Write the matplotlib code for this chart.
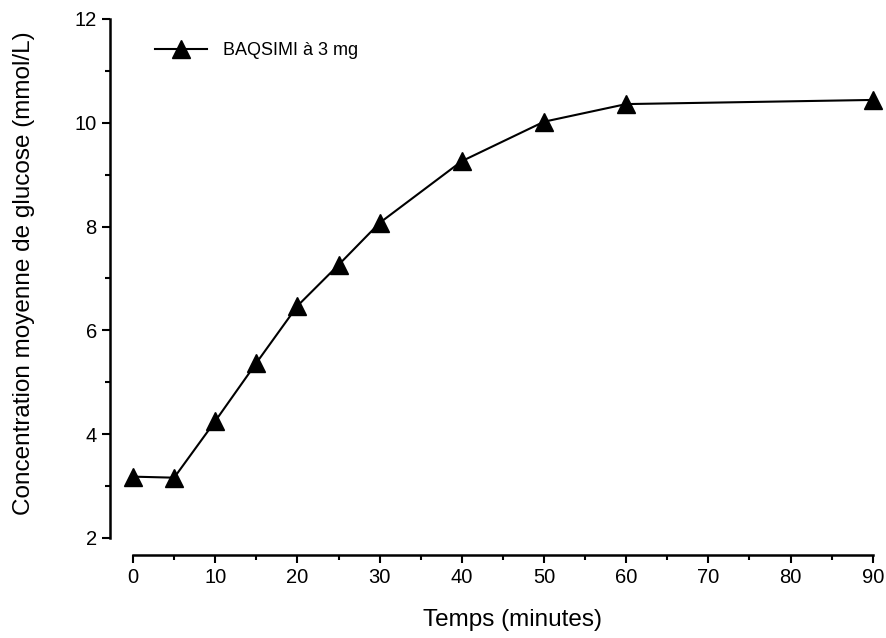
import matplotlib.pyplot as plt
from matplotlib.ticker import MultipleLocator

# Datos
temps = [0, 5, 10, 15, 20, 25, 30, 40, 50, 60, 90]
glucose = [3.18, 3.16, 4.25, 5.37, 6.47, 7.26, 8.07, 9.26, 10.02, 10.36, 10.44]
x_ticks = [0, 10, 20, 30, 40, 50, 60, 70, 80, 90]
y_ticks = [2, 4, 6, 8, 10, 12]

plt.rcParams['font.family'] = ['Liberation Sans', 'DejaVu Sans']

fig = plt.figure(figsize=(8.86, 6.38), dpi=100)
ax = fig.add_axes([0.1242, 0.1301, 0.8747, 0.8564])

ax.plot(temps, glucose, color='black', linewidth=1.5, marker='^', markersize=12.5,
        label='BAQSIMI à 3 mg', clip_on=False)

ax.set_xlim(-2.8, 91.5)
ax.set_ylim(1.67, 12.2)
ax.set_xticks(x_ticks)
ax.set_yticks(y_ticks)
ax.xaxis.set_minor_locator(MultipleLocator(5))
ax.yaxis.set_minor_locator(MultipleLocator(1))

for s in ['top', 'right']:
    ax.spines[s].set_visible(False)
ax.spines['left'].set_linewidth(1.8)
ax.spines['bottom'].set_linewidth(1.8)
ax.spines['left'].set_bounds(2, 12)
ax.spines['bottom'].set_bounds(0, 90)

ax.tick_params(which='major', length=6, width=1.5, labelsize=14.5, direction='out')
ax.tick_params(which='minor', length=3.5, width=1.5, direction='out')

ax.set_xlabel('Temps (minutes)', fontsize=17.5)
ax.set_ylabel('Concentration moyenne de glucose (mmol/L)', fontsize=17.5)
ax.xaxis.set_label_coords(0.519, -0.099)
ax.yaxis.set_label_coords(-0.097, 0.515)

fig.legend(loc='upper left', bbox_to_anchor=(155 / 886, 1 - 42 / 638), frameon=False,
           fontsize=13, handlelength=2.9, handletextpad=0.85, borderpad=0, borderaxespad=0)

plt.savefig('out.png', dpi=100)
